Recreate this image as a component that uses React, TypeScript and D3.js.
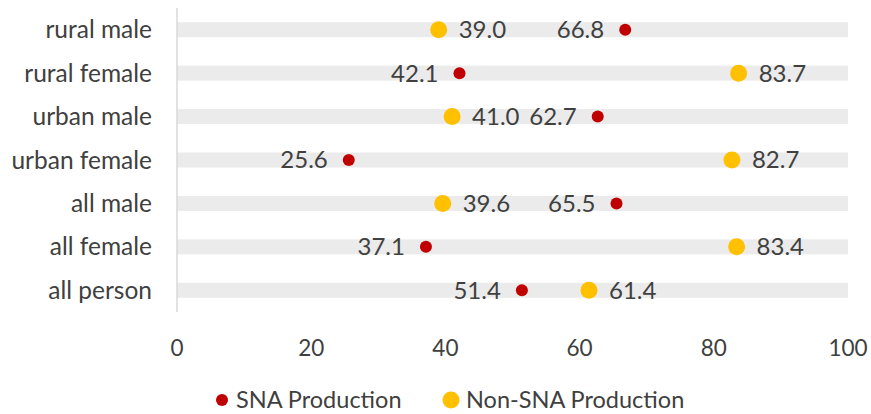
import React from "react";
import * as d3 from "d3";

const categories = ["rural male", "rural female", "urban male", "urban female", "all male", "all female", "all person"];
const snaValues = [66.8, 42.1, 62.7, 25.6, 65.5, 37.1, 51.4];
const nonSnaValues = [39.0, 83.7, 41.0, 82.7, 39.6, 83.4, 61.4];
const xTicks = [0, 20, 40, 60, 80, 100];
const seriesNames = ["SNA Production", "Non-SNA Production"];

const W = 871;
const H = 414;
const FONT = "Lato, 'Open Sans', sans-serif";
const TEXT = "#404040";
const RED = "#C00000";
const YELLOW = "#FFC000";

export default function App() {
  const x = d3.scaleLinear().domain([0, 100]).range([177, 848]);
  const y = d3.scaleBand<string>().domain(categories).range([8, 312]);
  const yc = (c: string) => (y(c) as number) + y.bandwidth() / 2;
  const fmt = d3.format(".1f");
  return (
    <svg width={W} height={H} style={{ position: "absolute", left: 0, top: 0 }} fontFamily={FONT}>
      {categories.map((c) => (
        <rect key={"b" + c} x={x(0)} y={yc(c) - 7.5} width={x(100) - x(0)} height={15} fill="#EBEBEB" />
      ))}
      <line x1={x(0)} x2={x(0)} y1={8} y2={312} stroke="#D9D9D9" strokeWidth={1.5} />
      {categories.map((c) => (
        <text key={"l" + c} x={152} y={yc(c)} dy="0.35em" textAnchor="end" fontSize={24.5} fill={TEXT}>
          {c}
        </text>
      ))}
      {xTicks.map((t) => (
        <text key={"t" + t} x={x(t)} y={356} textAnchor="middle" fontSize={22.5} fill={TEXT}>
          {t}
        </text>
      ))}
      {categories.map((c, i) => (
        <g key={"s" + c}>
          <circle cx={x(snaValues[i])} cy={yc(c)} r={6} fill={RED} />
          <text x={x(snaValues[i]) - 21} y={yc(c)} dy="0.35em" textAnchor="end" fontSize={24} fill={TEXT}>
            {fmt(snaValues[i])}
          </text>
          <circle cx={x(nonSnaValues[i])} cy={yc(c)} r={8.5} fill={YELLOW} />
          <text x={x(nonSnaValues[i]) + 20} y={yc(c)} dy="0.35em" textAnchor="start" fontSize={24} fill={TEXT}>
            {fmt(nonSnaValues[i])}
          </text>
        </g>
      ))}
      <g>
        <circle cx={222} cy={400} r={6} fill={RED} />
        <text x={236} y={400} dy="0.35em" fontSize={23.5} fill={TEXT}>{seriesNames[0]}</text>
        <circle cx={451} cy={400} r={8.5} fill={YELLOW} />
        <text x={466} y={400} dy="0.35em" fontSize={23.5} fill={TEXT}>{seriesNames[1]}</text>
      </g>
    </svg>
  );
}
